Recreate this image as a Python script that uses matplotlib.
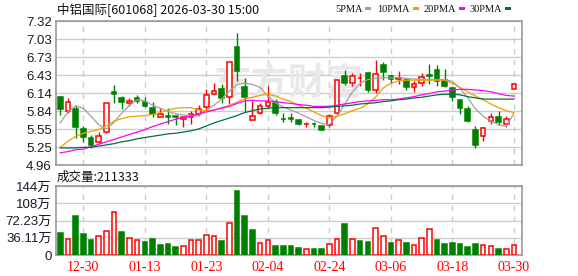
import matplotlib
matplotlib.use("Agg")
import matplotlib.pyplot as plt
from matplotlib.patches import Rectangle
import numpy as np

plt.rcParams['font.family'] = ['Liberation Sans', 'Noto Sans CJK SC']

# daily candles, 2025-12-25 .. 2026-03-30
opens = [6.08, 5.85, 5.88, 5.55, 5.40, 5.33, 5.50, 6.16, 6.05, 5.97,
         6.05, 5.99, 5.90, 5.75, 5.76, 5.76, 5.71, 5.75, 5.80, 5.91,
         6.13, 6.20, 6.07, 6.89, 6.24, 5.69, 5.81, 5.93, 5.97, 5.72,
         5.73, 5.70, 5.63, 5.64, 5.60, 5.62, 5.81, 6.42, 6.31, 6.38,
         6.46, 6.19, 6.60, 6.42, 6.37, 6.35, 6.24, 6.30, 6.44, 6.52,
         6.36, 6.22, 6.03, 5.88, 5.53, 5.43, 5.68, 5.74, 5.64, 6.20]
highs = [6.09, 6.05, 5.94, 5.60, 5.45, 5.50, 5.98, 6.27, 6.09, 6.06,
         6.10, 6.07, 5.99, 5.89, 5.90, 5.77, 5.74, 5.84, 5.95, 6.21,
         6.30, 6.29, 6.65, 7.13, 6.38, 6.01, 5.98, 6.26, 6.04, 5.82,
         5.82, 5.71, 5.67, 5.67, 5.60, 5.80, 6.36, 6.51, 6.46, 6.46,
         6.49, 6.68, 6.65, 6.43, 6.50, 6.38, 6.34, 6.46, 6.62, 6.60,
         6.54, 6.24, 6.04, 5.93, 5.60, 5.59, 5.81, 5.85, 5.76, 6.28]
lows = [5.78, 5.81, 5.41, 5.34, 5.24, 5.32, 5.48, 5.97, 5.88, 5.93,
        5.97, 5.91, 5.75, 5.74, 5.63, 5.62, 5.58, 5.64, 5.77, 5.87,
        6.11, 5.97, 5.96, 6.33, 5.85, 5.69, 5.79, 5.90, 5.78, 5.67,
        5.67, 5.62, 5.58, 5.58, 5.53, 5.58, 5.80, 6.27, 6.26, 6.26,
        6.15, 6.14, 6.35, 6.30, 6.29, 6.19, 6.16, 6.26, 6.28, 6.25,
        6.24, 6.01, 5.80, 5.67, 5.24, 5.36, 5.64, 5.62, 5.58, 6.20]
closes = [5.88, 6.00, 5.59, 5.42, 5.29, 5.43, 5.97, 6.13, 6.00, 6.01,
          6.01, 5.93, 5.80, 5.79, 5.74, 5.74, 5.74, 5.79, 5.88, 6.10,
          6.18, 6.05, 6.65, 6.50, 6.08, 5.77, 5.93, 6.00, 5.81, 5.71,
          5.71, 5.64, 5.64, 5.63, 5.53, 5.77, 6.35, 6.31, 6.42, 6.39,
          6.19, 6.45, 6.49, 6.37, 6.39, 6.24, 6.29, 6.41, 6.42, 6.34,
          6.26, 6.08, 5.89, 5.68, 5.29, 5.56, 5.75, 5.66, 5.71, 6.28]

ma5 = [5.65, 5.83, 5.93, 5.89, 5.76, 5.62, 5.55, 5.66, 5.81, 5.94,
       6.03, 6.01, 5.94, 5.89, 5.84, 5.80, 5.78, 5.77, 5.77, 5.86,
       5.94, 6.04, 6.17, 6.28, 6.30, 6.28, 6.23, 6.09, 5.98, 5.91,
       5.86, 5.81, 5.75, 5.69, 5.64, 5.62, 5.76, 5.96, 6.16, 6.30,
       6.36, 6.38, 6.39, 6.39, 6.39, 6.38, 6.37, 6.36, 6.36, 6.36,
       6.36, 6.33, 6.22, 6.06, 5.88, 5.76, 5.68, 5.62, 5.59, 5.81]
ma10 = [5.25, 5.35, 5.43, 5.48, 5.51, 5.54, 5.60, 5.68, 5.72, 5.75,
        5.76, 5.77, 5.79, 5.82, 5.86, 5.89, 5.90, 5.90, 5.86, 5.85,
        5.86, 5.90, 5.94, 5.99, 6.05, 6.07, 6.10, 6.12, 6.09, 6.04,
        6.00, 5.94, 5.89, 5.83, 5.77, 5.73, 5.76, 5.80, 5.85, 5.89,
        5.96, 6.07, 6.22, 6.30, 6.34, 6.35, 6.35, 6.35, 6.35, 6.35,
        6.35, 6.30, 6.23, 6.16, 6.09, 6.03, 5.96, 5.90, 5.85, 5.82]
ma20 = [5.16, 5.18, 5.21, 5.22, 5.26, 5.30, 5.34, 5.38, 5.42, 5.46,
        5.50, 5.54, 5.59, 5.63, 5.67, 5.71, 5.74, 5.76, 5.80, 5.83,
        5.86, 5.89, 5.92, 5.97, 6.01, 6.02, 6.01, 6.01, 6.00, 5.98,
        5.97, 5.95, 5.94, 5.92, 5.92, 5.92, 5.94, 5.96, 5.98, 6.00,
        6.01, 6.02, 6.03, 6.03, 6.04, 6.06, 6.08, 6.11, 6.13, 6.16,
        6.17, 6.19, 6.20, 6.20, 6.19, 6.18, 6.16, 6.13, 6.10, 6.09]
ma30 = [5.24, 5.24, 5.24, 5.25, 5.25, 5.27, 5.29, 5.31, 5.34, 5.36,
        5.39, 5.41, 5.43, 5.45, 5.47, 5.48, 5.50, 5.52, 5.55, 5.60,
        5.65, 5.69, 5.73, 5.77, 5.82, 5.85, 5.88, 5.89, 5.90, 5.90,
        5.90, 5.90, 5.90, 5.90, 5.90, 5.91, 5.92, 5.93, 5.94, 5.96,
        5.97, 5.98, 6.00, 6.01, 6.03, 6.04, 6.06, 6.07, 6.09, 6.11,
        6.12, 6.12, 6.11, 6.08, 6.06, 6.04, 6.04, 6.04, 6.04, 6.04]

# volume in 万 shares, 1 = closed up (red)
volume = [46.8, 32.8, 81.6, 44.0, 31.4, 39.0, 49.5, 89.3, 48.1, 34.9,
          30.7, 27.2, 33.5, 20.9, 23.0, 16.7, 18.1, 30.7, 30.7, 41.2,
          39.0, 29.3, 66.3, 134.0, 81.6, 52.3, 24.4, 30.7, 18.8, 18.8,
          18.8, 14.7, 11.9, 12.6, 12.6, 23.0, 32.8, 64.9, 32.8, 29.3,
          27.2, 55.8, 39.0, 25.1, 30.7, 25.1, 20.2, 34.9, 53.7, 31.4,
          23.0, 25.1, 23.0, 16.7, 23.0, 20.2, 18.1, 12.6, 11.9, 21.1]
vol_up = [0, 1, 0, 0, 0, 1, 1, 1, 0, 1, 1, 0, 0, 0, 0, 0, 1, 1, 1, 1,
          1, 0, 1, 0, 0, 0, 1, 1, 0, 0, 0, 0, 1, 0, 0, 1, 1, 0, 1, 0,
          0, 1, 1, 0, 1, 0, 1, 1, 1, 0, 0, 0, 0, 0, 0, 1, 1, 0, 1, 1]

date_ticks = [3, 11, 19, 27, 35, 43, 51, 59]
date_labels = ['12-30', '01-13', '01-23', '02-04', '02-24', '03-06', '03-18', '03-30']

price_ticks = ['4.96', '5.25', '5.55', '5.84', '6.14', '6.43', '6.73', '7.03', '7.32']
vol_ticks = ['0', '36.11万', '72.23万', '108万', '144万']

RED = '#ff0000'
GREEN = '#008000'
ma_names = ['5PMA', '10PMA', '20PMA', '30PMA']
ma_colors = ['#a0a0a0', '#f0a000', '#ff00ff', '#00703c']

W, H = 578, 276
fig = plt.figure(figsize=(W / 100, H / 100), dpi=100)

def fx(px):
    return px / W

def fy(py):
    return 1 - py / H

ax = fig.add_axes([fx(56), fy(165), fx(466), 144 / H])
axv = fig.add_axes([fx(56), fy(255), fx(466), 69 / H])

x = np.arange(len(closes))
o = np.array(opens)
c = np.array(closes)
up = c >= o

# price panel
ax.vlines(x, lows, highs, colors=np.where(up, RED, GREEN), linewidth=1, zorder=3)
body_bot = np.minimum(o, c)
body_h = np.maximum(np.abs(c - o), 0.006)
ax.bar(x[up], body_h[up], bottom=body_bot[up], width=0.6,
       facecolor='white', edgecolor=RED, linewidth=1.1, zorder=4)
ax.bar(x[~up], body_h[~up], bottom=body_bot[~up], width=0.6,
       facecolor=GREEN, edgecolor=GREEN, linewidth=1.1, zorder=4)

for ma, col in zip([ma5, ma10, ma20, ma30], ma_colors):
    ax.plot(x, ma, color=col, linewidth=0.9, zorder=5)

ymin, ymax = 4.96, 7.32
ax.set_ylim(ymin, ymax)
ax.set_yticks(np.linspace(ymin, ymax, len(price_ticks)))
ax.set_yticklabels(price_ticks)

ax.text(0.50, 0.56, '东方财富', transform=ax.transAxes, ha='center', va='center',
        fontsize=27, fontweight='bold', color='#e8e8e8',
        family=['Noto Sans CJK SC'], zorder=1)

# volume panel
vu = np.array(vol_up) == 1
vol = np.array(volume)
axv.bar(x[vu], vol[vu], width=0.6, facecolor='white', edgecolor=RED, linewidth=1.1, zorder=3)
axv.bar(x[~vu], vol[~vu], width=0.6, facecolor=GREEN, edgecolor=GREEN, linewidth=1.1, zorder=3)
vmax = 144.45
axv.set_ylim(0, vmax)
axv.set_yticks(np.linspace(0, vmax, len(vol_ticks)))
axv.set_yticklabels(vol_ticks)

for a in (ax, axv):
    a.set_xlim(-0.55, 60.05)
    a.set_xticks(date_ticks)
    a.grid(axis='y', color='#cccccc', linewidth=1, linestyle='-', zorder=0)
    a.grid(axis='x', color='#cccccc', linewidth=1, linestyle=(0, (4, 4)), zorder=0)
    a.set_axisbelow(True)
    for s in a.spines.values():
        s.set_color('#999999')
        s.set_linewidth(1.2)
    a.tick_params(length=0, labelsize=9.5, labelcolor='#1a1a2a', pad=3)

ax.set_xticklabels([])
axv.set_xticklabels(date_labels, color=RED, family=['Liberation Serif'], fontsize=10)
axv.tick_params(axis='x', pad=4)
axv.tick_params(axis='y', labelsize=9.5)

# header texts
fig.text(fx(57), fy(9), '中铝国际[601068] 2026-03-30 15:00', ha='left', va='center',
         fontsize=9, color='#111111', family=['Noto Sans CJK SC', 'DejaVu Sans'])
fig.text(fx(57), fy(177.5), '成交量:211333', ha='left', va='center',
         fontsize=9, color='#111111', family=['Noto Sans CJK SC', 'DejaVu Sans'])

# legend: name ends just before its colour square
txt_end = [363, 410, 456, 502]
sq_x = [365, 413, 459, 505]
for name, col, tx, sx in zip(ma_names, ma_colors, txt_end, sq_x):
    fig.text(fx(tx), fy(9), name, ha='right', va='center', fontsize=7.5,
             color='#111111', family=['Liberation Serif'])
    fig.patches.append(Rectangle((fx(sx), fy(10)), fx(6), 3 / H,
                                 transform=fig.transFigure, facecolor=col,
                                 edgecolor='none'))

fig.savefig('out.png', dpi=100)
